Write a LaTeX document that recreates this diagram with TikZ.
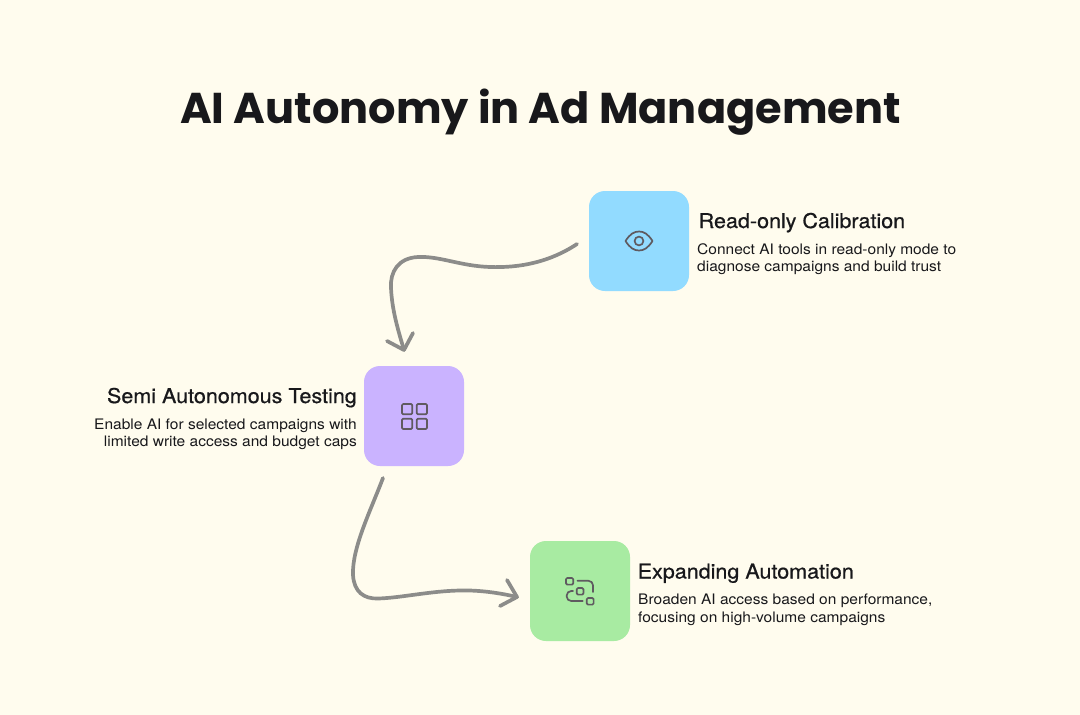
\documentclass[tikz,border=0pt]{standalone}
\usepackage{fontspec}
\setmainfont{Poppins}
\newfontfamily\headfont[FakeBold=0.7,FakeStretch=1.06]{TeX Gyre Heros}
\newfontfamily\bodyfont[FakeStretch=1.07]{TeX Gyre Heros}
\definecolor{bgc}{HTML}{FFFCEE}
\definecolor{inkc}{HTML}{18181B}
\definecolor{iconc}{HTML}{5F5A60}
\definecolor{arrowc}{HTML}{8C8C8A}
\definecolor{bluec}{HTML}{92DBFF}
\definecolor{purplec}{HTML}{CAB3FF}
\definecolor{greenc}{HTML}{A8EBA2}
\tikzset{
 tile/.style={minimum width=100pt,minimum height=100pt,rounded corners=16pt,inner sep=0pt,anchor=center},
 ttl/.style={text=inkc,font=\fontsize{43.1}{50}\selectfont\bfseries,inner sep=0pt},
 head/.style={text=inkc,font=\headfont\fontsize{20.3}{24}\selectfont,inner sep=0pt},
 bodyl/.style={text=inkc,font=\bodyfont\fontsize{14.5}{17.6}\selectfont,inner sep=0pt,align=left},
 bodyr/.style={text=inkc,font=\bodyfont\fontsize{14.5}{17.6}\selectfont,inner sep=0pt,align=right},
 icon/.style={draw=iconc,line width=1.7pt,line cap=round,line join=round,rounded corners=1.2pt},
 flow/.style={draw=arrowc,line width=3.7pt,line cap=round,line join=round},
}
\begin{document}
\begin{tikzpicture}[x=1pt,y=-1pt]
\path[use as bounding box,fill=bgc] (0,0) rectangle (1080,715);
\node[ttl,anchor=base] (title) at (540.5,123) {AI Autonomy in Ad Management};
\node[tile,fill=bluec] (read) at (639,241) {};
\node[tile,fill=purplec] (semi) at (414,416) {};
\node[tile,fill=greenc] (expand) at (580,591) {};
\node[head,anchor=base west] (readh) at (698.5,228) {Read-only Calibration};
\node[bodyl,anchor=north west] (readb) at (697,243) {Connect AI tools in read-only mode to\\diagnose campaigns and build trust};
\node[head,anchor=base east] (semih) at (357,403) {Semi Autonomous Testing};
\node[bodyr,anchor=north east] (semib) at (357,418.5) {Enable AI for selected campaigns with\\limited write access and budget caps};
\node[head,anchor=base west] (exph) at (637.5,578.5) {Expanding Automation};
\node[bodyl,anchor=north west] (expb) at (638,594) {Broaden AI access based on performance,\\focusing on high-volume campaigns};
% eye
\draw[icon,rounded corners=0pt] (625.5,241) .. controls (630,234) and (634,231.5) .. (639,231.5) .. controls (644,231.5) and (648,234) .. (652.5,241) .. controls (648,248) and (644,250.5) .. (639,250.5) .. controls (634,250.5) and (630,248) .. (625.5,241) -- cycle;
\draw[icon] (639,241) circle (4.4);
% grid
\draw[icon] (402,404) rectangle (412.3,414.3);
\draw[icon] (416.7,404) rectangle (427,414.3);
\draw[icon] (402,418.7) rectangle (412.3,429);
\draw[icon] (416.7,418.7) rectangle (427,429);
% nodes icon
\draw[icon] (566,578) rectangle (573.2,584.6);
\draw[icon] (576.8,588) rectangle (583.4,594.6);
\draw[icon] (586.8,598) rectangle (593.6,604.6);
\draw[icon,rounded corners=4.5pt] (577.5,580.8) -- (593,580.8) -- (593,592);
\draw[icon,rounded corners=4.5pt] (573,591) -- (566.7,591) -- (566.7,601) -- (582.7,601);
% connectors
\coordinate (a1s) at (577,244);
\coordinate (a1e) at (404,350);
\coordinate (a2s) at (383,478);
\coordinate (a2e) at (517,597);
\draw[flow] (a1s) .. controls (550,262) and (520,268) .. (490,267) .. controls (460,266) and (440,256) .. (418,257) .. controls (398,258) and (390,272) .. (391,288) .. controls (392,310) and (398,330) .. (a1e);
\draw[flow] (387,341) -- (a1e) -- (413,333);
\draw[flow] (a2s) .. controls (370,512) and (352,548) .. (353,575) .. controls (354,592) and (364,599) .. (378,598.5) .. controls (400,598) and (430,591) .. (460,590.5) .. controls (480,590) and (500,593) .. (a2e);
\draw[flow] (507,580) -- (a2e) -- (500,606);
\end{tikzpicture}
\end{document}
